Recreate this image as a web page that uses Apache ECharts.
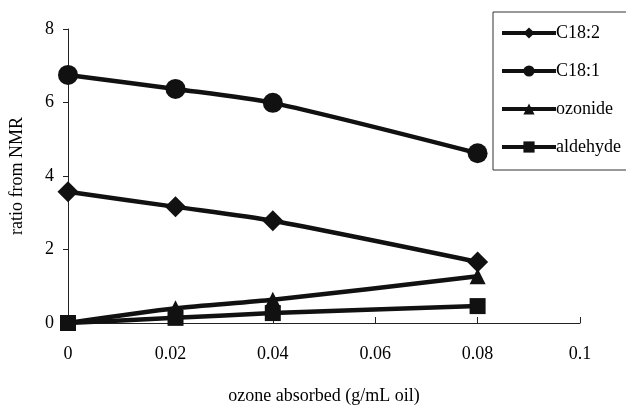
<!DOCTYPE html>
<html><head><meta charset="utf-8">
<script src="https://cdn.jsdelivr.net/npm/echarts@6/dist/echarts.min.js"></script>
<style>html,body{margin:0;padding:0;background:#fff}#c{width:626px;height:406px}</style>
</head><body><div id="c"></div>
<script>
const xValues = [0, 0.021, 0.04, 0.08];
const c182 = [3.57, 3.16, 2.78, 1.66];
const c181 = [6.75, 6.37, 5.99, 4.62];
const ozonide = [0, 0.4, 0.63, 1.27];
const aldehyde = [0, 0.14, 0.27, 0.46];
const seriesNames = ['C18:2', 'C18:1', 'ozonide', 'aldehyde'];
const symbols = ['diamond', 'circle', 'triangle', 'rect'];
const symbolSizes = [21, 20, 16, 16];
const allData = [c182, c181, ozonide, aldehyde];

const font = 'Liberation Serif, Times New Roman, serif';
const chart = echarts.init(document.getElementById('c'));
chart.setOption({
  animation: false,
  backgroundColor: '#fff',
  grid: {left: 68, right: 46, top: 29, bottom: 83, outerBoundsMode: 'none', containLabel: false},
  xAxis: {
    type: 'value', min: 0, max: 0.1, interval: 0.02,
    axisLine: {lineStyle: {color: '#222', width: 1}},
    axisTick: {inside: true, length: 6, lineStyle: {color: '#222'}},
    splitLine: {show: false},
    axisLabel: {color: '#000', fontFamily: font, fontSize: 18, margin: 22,
      formatter: v => String(+v.toFixed(2))},
    name: 'ozone absorbed (g/mL oil)', nameLocation: 'middle', nameGap: 64,
    nameTextStyle: {color: '#000', fontFamily: font, fontSize: 18}
  },
  yAxis: {
    type: 'value', min: 0, max: 8, interval: 2,
    axisLine: {show: true, lineStyle: {color: '#222', width: 1}},
    axisTick: {show: true, length: 5, lineStyle: {color: '#222'}},
    splitLine: {show: false},
    axisLabel: {color: '#000', fontFamily: font, fontSize: 18, margin: 14},
    name: 'ratio from NMR', nameLocation: 'middle', nameGap: 42,
    nameTextStyle: {color: '#000', fontFamily: font, fontSize: 18}
  },
  legend: {
    orient: 'vertical', left: 493, top: 12,
    data: seriesNames,
    itemWidth: 54, itemHeight: 14, itemGap: 20,
    borderColor: '#333', borderWidth: 1,
    padding: [12, 60, 14, 7],
    lineStyle: {width: 4},
    textStyle: {color: '#000', fontFamily: font, fontSize: 18, padding: [0, 0, 0, -5]}
  },
  series: allData.map((d, i) => ({
    name: seriesNames[i], type: 'line', smooth: 0.25,
    data: d.map((y, j) => [xValues[j], y]),
    symbol: symbols[i], symbolSize: symbolSizes[i],
    lineStyle: {color: '#111', width: 4.5},
    itemStyle: {color: '#111'}
  }))
});
</script></body></html>
